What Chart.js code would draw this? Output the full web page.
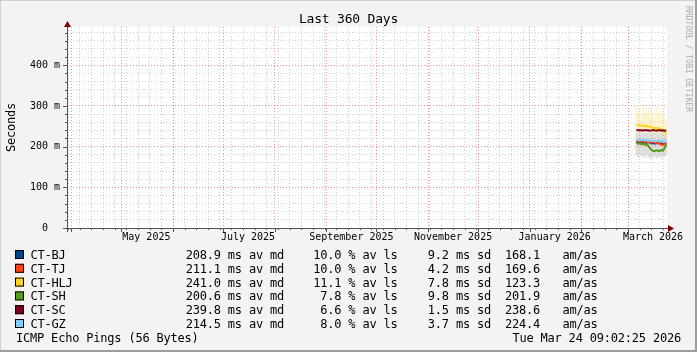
<!DOCTYPE html>
<html>
<head>
<meta charset="utf-8">
<script src="https://cdn.jsdelivr.net/npm/chart.js@4.4.1/dist/chart.umd.min.js"></script>
<style>
  html, body { margin: 0; padding: 0; background: #f3f3f3; }
  canvas { display: block; }
</style>
</head>
<body>
<canvas id="myChart" width="697" height="352"></canvas>
<script>
// ---- data ----
const hosts = ["CT-BJ", "CT-TJ", "CT-HLJ", "CT-SH", "CT-SC", "CT-GZ"];
const hostColors = ["#004586", "#ff420e", "#ffd320", "#579d1c", "#7e0021", "#83caff"];
const medians = ["208.9", "211.1", "241.0", "200.6", "239.8", "214.5"];
const losses = ["10.0", "10.0", "11.1", "7.8", "6.6", "8.0"];
const stddevs = ["9.2", "4.2", "7.8", "9.8", "1.5", "3.7"];
const amas = ["168.1", "169.6", "123.3", "201.9", "238.6", "224.4"];

const days = ["2026-03-06", "2026-03-07", "2026-03-08", "2026-03-09", "2026-03-10",
  "2026-03-11", "2026-03-12", "2026-03-13", "2026-03-14", "2026-03-15", "2026-03-16",
  "2026-03-17", "2026-03-18", "2026-03-19", "2026-03-20", "2026-03-21", "2026-03-22",
  "2026-03-23", "2026-03-24"];

// median rtt in ms
const bj  = [212, 211, 210, 212, 211, 210, 209, 211, 210, 208, 209, 207, 208, 209, 207, 208, 206, 207, 208];
const tj  = [214, 213, 214, 212, 213, 212, 211, 212, 211, 210, 211, 210, 209, 210, 206, 205, 204, 206, 209];
const hlj = [254, 252, 253, 251, 252, 250, 251, 249, 250, 247, 246, 245, 246, 244, 245, 243, 240, 236, 232];
const sh  = [208, 207, 208, 206, 207, 205, 204, 203, 197, 192, 190, 189, 191, 190, 189, 192, 190, 198, 205];
const sc  = [240, 241, 240, 240, 239, 241, 240, 240, 239, 240, 241, 240, 239, 240, 240, 239, 240, 239, 240];
const gz  = [216, 217, 215, 216, 217, 215, 216, 214, 215, 214, 215, 213, 214, 215, 214, 213, 214, 215, 214];

// smoke (spread of pings)
const hljHi = [300, 285, 295, 270, 290, 300, 280, 295, 275, 290, 285, 270, 295, 280, 290, 275, 285, 270, 260];
const hljLo = [235, 240, 238, 236, 240, 235, 238, 236, 234, 236, 232, 235, 230, 234, 232, 230, 228, 225, 222];
const restHi = [236, 232, 238, 234, 232, 236, 233, 238, 232, 234, 233, 236, 232, 234, 233, 232, 234, 233, 232];
const restLo = [180, 175, 182, 178, 176, 172, 180, 174, 170, 176, 172, 178, 170, 174, 176, 172, 178, 175, 180];

const monthLabels = ["May 2025", "July 2025", "September 2025", "November 2025", "January 2026", "March 2026"];
const monthLabelDays = ["2025-05-16", "2025-07-16", "2025-09-16", "2025-11-16", "2026-01-16", "2026-03-16"];

const title = "Last 360 Days";
const yTitle = "Seconds";
const footer = "ICMP Echo Pings (56 Bytes)";
const stamp = "Tue Mar 24 09:02:25 2026";
const watermark = "RRDTOOL / TOBI OETIKER";

// ---- helpers ----
const DAY = 86400000;
const endTime = Date.UTC(2026, 2, 24, 9, 2, 25);
const startTime = endTime - 360 * DAY;
const toMs = (d) => Date.parse(d + "T00:00:00Z");
const t = days.map(toMs);

const MONO = "'DejaVu Sans Mono', 'Liberation Mono', monospace";
const minorGrid = "rgba(150,150,150,0.45)";
const majorGrid = "rgba(235,80,80,0.6)";

const timeTicks = () => {
  const out = [];
  let d = new Date(startTime);
  d = new Date(Date.UTC(d.getUTCFullYear(), d.getUTCMonth(), d.getUTCDate()));
  while (d.getUTCDay() !== 0) d = new Date(d.getTime() + DAY);
  for (let v = d.getTime(); v <= endTime; v += 7 * DAY) out.push({ value: v, kind: "week" });
  const s = new Date(startTime);
  for (let y = s.getUTCFullYear(), m = s.getUTCMonth() + 1; ; m++) {
    const v = Date.UTC(y, m, 1);
    if (v > endTime) break;
    out.push({ value: v, kind: "month" });
  }
  monthLabelDays.forEach((d, i) => out.push({ value: toMs(d), kind: "label", text: monthLabels[i] }));
  return out.sort((a, b) => a.value - b.value);
};

const lineSet = (label, values, color, order) => ({
  type: "line",
  label,
  data: values.map((v, i) => ({ x: t[i], y: v })),
  borderColor: color,
  borderWidth: 2,
  pointRadius: 0,
  tension: 0,
  order,
});

const smokeSet = (lo, hi, color) => ({
  type: "bar",
  data: lo.map((v, i) => ({ x: t[i], y: [v, hi[i]] })),
  backgroundColor: color,
  borderWidth: 0,
  barThickness: 1,
  grouped: false,
  order: 50,
});

// ---- drawing plugin: frame, axes, legend, texts ----
const rrdDecor = {
  id: "rrdDecor",
  beforeDraw(chart) {
    const { ctx, width, height, chartArea: a } = chart;
    ctx.save();
    ctx.fillStyle = "#f3f3f3";
    ctx.fillRect(0, 0, width, height);
    ctx.fillStyle = "#cfcfcf";
    ctx.fillRect(0, 0, width, 1);
    ctx.fillRect(0, 0, 1, height);
    ctx.fillStyle = "#9e9e9e";
    ctx.fillRect(0, height - 2, width, 2);
    ctx.fillRect(width - 2, 0, 2, height);
    ctx.fillStyle = "#ffffff";
    ctx.fillRect(a.left, a.top, a.right - a.left, a.bottom - a.top);
    ctx.restore();
  },
  afterDatasetsDraw(chart) {
    const { ctx, chartArea: a, scales } = chart;
    ctx.save();
    ctx.strokeStyle = "#555";
    ctx.lineWidth = 1;
    // small ticks outside the axes
    ctx.beginPath();
    scales.y.ticks.forEach((tk) => {
      const y = Math.round(scales.y.getPixelForValue(tk.value)) + 0.5;
      const len = tk.value % 100 === 0 ? 4 : 2;
      ctx.moveTo(a.left - len, y);
      ctx.lineTo(a.left, y);
    });
    scales.x.ticks.forEach((tk) => {
      if (tk.kind === "label") return;
      const x = Math.round(scales.x.getPixelForValue(tk.value)) + 0.5;
      const len = tk.kind === "month" ? 4 : 2;
      ctx.moveTo(x, a.bottom);
      ctx.lineTo(x, a.bottom + len);
    });
    ctx.stroke();
    // axis lines
    ctx.beginPath();
    ctx.moveTo(a.left + 0.5, a.bottom + 4);
    ctx.lineTo(a.left + 0.5, a.top - 1);
    ctx.moveTo(a.left - 4, a.bottom + 0.5);
    ctx.lineTo(a.right + 1, a.bottom + 0.5);
    ctx.stroke();
    // arrows
    ctx.fillStyle = "#7f0000";
    ctx.beginPath();
    ctx.moveTo(a.left + 0.5, a.top - 6);
    ctx.lineTo(a.left - 3, a.top);
    ctx.lineTo(a.left + 4, a.top);
    ctx.closePath();
    ctx.fill();
    ctx.beginPath();
    ctx.moveTo(a.right + 7, a.bottom + 0.5);
    ctx.lineTo(a.right + 1, a.bottom - 3);
    ctx.lineTo(a.right + 1, a.bottom + 4);
    ctx.closePath();
    ctx.fill();
    ctx.restore();
  },
  afterDraw(chart) {
    const { ctx, width } = chart;
    ctx.save();
    ctx.fillStyle = "#000";
    ctx.textBaseline = "alphabetic";
    try { ctx.letterSpacing = "-0.2px"; } catch (e) {}

    ctx.font = "13px " + MONO;
    ctx.textAlign = "center";
    ctx.fillText(title, width / 2, 23);

    // y axis title
    ctx.font = "12px " + MONO;
    ctx.save();
    ctx.translate(15, 127.5);
    ctx.rotate(-Math.PI / 2);
    ctx.textAlign = "center";
    ctx.fillText(yTitle, 0, 0);
    ctx.restore();

    // legend rows
    hosts.forEach((name, i) => {
      const base = 259 + i * 13.8;
      ctx.fillStyle = hostColors[i];
      ctx.fillRect(15, base - 9, 9, 9);
      ctx.strokeStyle = "#000";
      ctx.lineWidth = 1;
      ctx.strokeRect(15.5, base - 8.5, 8, 8);
      ctx.fillStyle = "#000";
      ctx.textAlign = "left";
      ctx.fillText(name, 30.5, base);
      ctx.textAlign = "right";
      ctx.fillText(medians[i] + " ms av md", 284, base);
      ctx.fillText(losses[i] + " % av ls", 397.5, base);
      ctx.fillText(stddevs[i] + " ms sd", 491, base);
      ctx.textAlign = "left";
      ctx.fillText(amas[i], 505, base);
      ctx.fillText("am/as", 562.5, base);
    });
    ctx.textAlign = "left";
    ctx.fillText(footer, 16, 342);
    ctx.textAlign = "right";
    ctx.fillText(stamp, 681, 342);

    // watermark
    ctx.font = "8px " + MONO;
    ctx.fillStyle = "#aaaaaa";
    try { ctx.letterSpacing = "0px"; } catch (e) {}
    ctx.translate(688, 59);
    ctx.rotate(Math.PI / 2);
    ctx.textAlign = "center";
    ctx.textBaseline = "middle";
    ctx.fillText(watermark, 0, 0);
    ctx.restore();
  },
};

const ctx = document.getElementById("myChart");

const myChart = new Chart(ctx, {
  type: "line",
  data: {
    datasets: [
      smokeSet(hljLo, hljHi, "rgba(255,211,32,0.22)"),
      smokeSet(restLo, restHi, "rgba(120,110,100,0.22)"),
      lineSet(hosts[0], bj, hostColors[0], 6),
      lineSet(hosts[1], tj, hostColors[1], 5),
      lineSet(hosts[2], hlj, hostColors[2], 4),
      lineSet(hosts[3], sh, hostColors[3], 3),
      lineSet(hosts[4], sc, hostColors[4], 2),
      lineSet(hosts[5], gz, hostColors[5], 1),
    ],
  },
  options: {
    responsive: false,
    animation: false,
    events: [],
    layout: { padding: { top: 27, right: 30, bottom: 0, left: 0 } },
    plugins: { legend: { display: false }, tooltip: { enabled: false }, title: { display: false } },
    scales: {
      x: {
        type: "linear",
        min: startTime,
        max: endTime,
        offset: false,
        afterBuildTicks: (scale) => { scale.ticks = timeTicks(); },
        afterFit: (scale) => { scale.height = 124; },
        border: { display: false, dash: [1, 2] },
        grid: {
          offset: false,
          drawTicks: false,
          lineWidth: 1,
          color: (c) => {
            const k = c.tick && c.tick.kind;
            if (k === "month") return majorGrid;
            if (k === "week") return minorGrid;
            return "rgba(0,0,0,0)";
          },
        },
        ticks: {
          autoSkip: false,
          maxRotation: 0,
          minRotation: 0,
          padding: 3,
          color: "#000",
          font: { family: MONO, size: 10 },
          callback: (v, i, ticks) => (ticks[i].kind === "label" ? ticks[i].text : ""),
        },
      },
      y: {
        type: "linear",
        min: 0,
        max: 494,
        afterBuildTicks: (scale) => {
          const out = [];
          for (let v = 0; v <= 480; v += 20) out.push({ value: v });
          scale.ticks = out;
        },
        afterFit: (scale) => { scale.width = 67; },
        border: { display: false, dash: [1, 2] },
        grid: {
          drawTicks: false,
          lineWidth: 1,
          color: (c) => {
            const v = c.tick ? c.tick.value : 0;
            if (v === 0) return "rgba(0,0,0,0)";
            return v % 100 === 0 ? majorGrid : minorGrid;
          },
        },
        ticks: {
          autoSkip: false,
          padding: 7,
          color: "#000",
          font: { family: MONO, size: 10 },
          callback: (v) => (v === 0 ? "0  " : v % 100 === 0 ? v + " m" : ""),
        },
      },
    },
  },
  plugins: [rrdDecor],
});
</script>
</body>
</html>
